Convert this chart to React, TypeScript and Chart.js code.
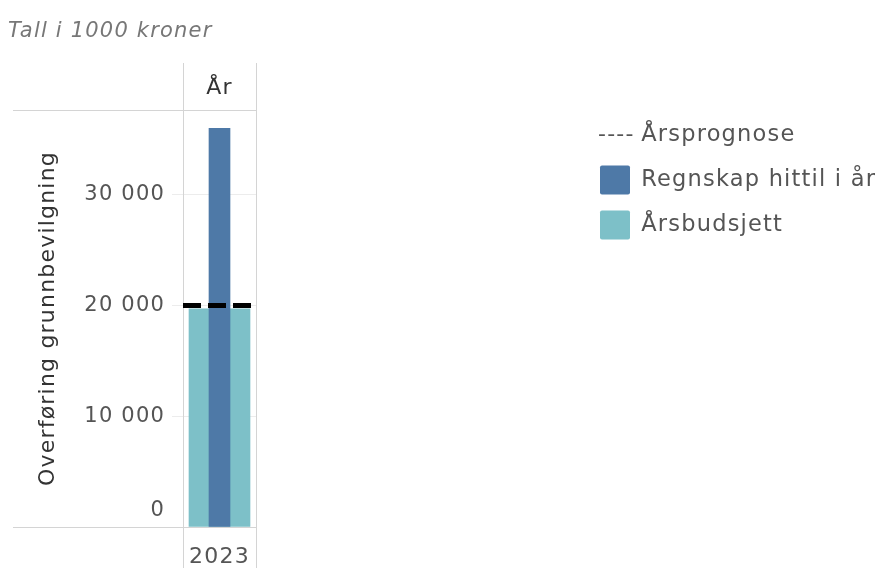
import React, { useEffect, useRef } from 'react';
import { Chart, registerables } from 'chart.js';

Chart.register(...registerables);

const categories = ['2023'];
const forecastLabel = 'Årsprognose';
const actualLabel = 'Regnskap hittil i år';
const budgetLabel = 'Årsbudsjett';
const forecastValues = [20100];
const actualValues = [36000];
const budgetValues = [19700];
const yTicks = [0, 10000, 20000, 30000];
const headerLabel = 'År';
const subtitleText = 'Tall i 1000 kroner';
const yTitleText = 'Overføring grunnbevilgning';

const FONT = "'DejaVu Sans', sans-serif";
const FRAME = '#d4d4d4';
const SPACING = '1.2px';

const fmt = (v: number) => String(v).replace(/\B(?=(\d{3})+(?!\d))/g, ' ');

const tableauPlugin = {
  id: 'tableauFrame',
  beforeUpdate(chart: any) {
    chart.ctx.letterSpacing = SPACING;
  },
  beforeLayout(chart: any) {
    const lg = chart.legend;
    if (lg && !lg.__fixed) {
      const orig = Object.getPrototypeOf(lg).fit;
      lg.fit = function () {
        orig.call(this);
        this.width = 2;
      };
      lg.__fixed = true;
    }
  },
  afterLayout(chart: any) {
    const lg = chart.legend;
    if (!lg) return;
    const a = chart.chartArea;
    lg.left = a.right + 328;
    lg.right = chart.width + 40;
    lg.width = lg.right - lg.left;
    lg.top = a.top - 5.5;
    lg.bottom = chart.height;
    lg.height = lg.bottom - lg.top;
  },
  beforeDraw(chart: any) {
    chart.ctx.letterSpacing = SPACING;
    const y = chart.scales.y;
    const items = y.getLabelItems(chart.chartArea);
    items.forEach((it: any) => {
      if (it.label === '0' && !it.__shifted) {
        it.options.translation[1] -= 16;
        it.__shifted = true;
      }
    });
  },
  beforeDatasetsDraw(chart: any) {
    const { ctx, chartArea: a } = chart;
    const frameLeft = 13;
    ctx.save();
    ctx.strokeStyle = FRAME;
    ctx.lineWidth = 1;
    ctx.beginPath();
    ctx.moveTo(Math.round(a.left) + 0.5, 63);
    ctx.lineTo(Math.round(a.left) + 0.5, chart.height);
    ctx.moveTo(Math.round(a.right) + 0.5, 63);
    ctx.lineTo(Math.round(a.right) + 0.5, chart.height);
    ctx.moveTo(frameLeft, Math.round(a.top) + 0.5);
    ctx.lineTo(Math.round(a.right) + 1, Math.round(a.top) + 0.5);
    ctx.moveTo(frameLeft, Math.round(a.bottom) + 0.5);
    ctx.lineTo(Math.round(a.right) + 1, Math.round(a.bottom) + 0.5);
    ctx.stroke();
    ctx.fillStyle = '#333';
    ctx.font = `22px ${FONT}`;
    ctx.textAlign = 'center';
    ctx.textBaseline = 'middle';
    ctx.fillText(headerLabel, (a.left + a.right) / 2, 88);
    ctx.restore();
  },
  afterDatasetsDraw(chart: any) {
    const { ctx, chartArea: a, scales } = chart;
    const ds = chart.data.datasets[0];
    const py = scales.y.getPixelForValue(ds.data[0]) + 1;
    ctx.save();
    ctx.setLineDash([18, 7]);
    ctx.lineWidth = 5;
    ctx.strokeStyle = ds.borderColor;
    ctx.beginPath();
    ctx.moveTo(a.left, py);
    ctx.lineTo(a.right - 2, py);
    ctx.stroke();
    ctx.restore();
  },
  afterDraw(chart: any) {
    const lg = chart.legend;
    if (!lg || !lg.legendHitBoxes || !lg.legendHitBoxes[0]) return;
    const hb = lg.legendHitBoxes[0];
    const ctx = chart.ctx;
    ctx.save();
    ctx.fillStyle = '#555';
    ctx.font = `22px ${FONT}`;
    ctx.textAlign = 'left';
    ctx.textBaseline = 'middle';
    ctx.fillText('----', hb.left - 2, hb.top + hb.height / 2);
    ctx.restore();
  },
};

export default function App() {
  const ref = useRef<HTMLCanvasElement>(null);

  useEffect(() => {
    if (!ref.current) return;
    const chart = new Chart(ref.current, {
      type: 'bar',
      data: {
        labels: categories,
        datasets: [
          {
            type: 'line',
            label: forecastLabel,
            data: forecastValues,
            borderColor: '#000000',
            backgroundColor: '#000000',
            pointRadius: 0,
            showLine: false,
            order: 2,
          } as any,
          {
            type: 'bar',
            label: actualLabel,
            data: actualValues,
            backgroundColor: '#4e79a7',
            borderWidth: 0,
            barThickness: 21,
            grouped: false,
            order: 0,
          },
          {
            type: 'bar',
            label: budgetLabel,
            data: budgetValues,
            backgroundColor: '#7dc0c8',
            borderWidth: 0,
            barThickness: 61,
            grouped: false,
            order: 1,
          },
        ],
      },
      options: {
        responsive: false,
        animation: false,
        events: [],
        devicePixelRatio: 1,
        layout: { padding: { left: 8, right: 620, top: 0, bottom: 0 } },
        plugins: {
          tooltip: { enabled: false },
          title: {
            display: true,
            text: subtitleText,
            align: 'start',
            color: '#777',
            font: { family: FONT, size: 21, style: 'italic', weight: 'normal' },
            padding: { top: 19, bottom: 65.8 },
          },
          legend: {
            display: true,
            position: 'right',
            align: 'start',
            labels: {
              font: { family: FONT, size: 22.5 },
              color: '#555',
              boxWidth: 30,
              boxHeight: 29,
              padding: 16,
              generateLabels: (c: any) =>
                c.data.datasets.map((ds: any, i: number) => ({
                  text: ds.label,
                  fillStyle: i === 0 ? 'rgba(0,0,0,0)' : ds.backgroundColor,
                  strokeStyle: 'rgba(0,0,0,0)',
                  lineWidth: 0,
                  hidden: false,
                  datasetIndex: i,
                  fontColor: '#555',
                  borderRadius: 2,
                })),
            },
          },
        },
        scales: {
          x: {
            type: 'category',
            position: 'bottom',
            grid: { display: false, drawTicks: false },
            border: { display: false },
            ticks: {
              color: '#555',
              font: { family: FONT, size: 22 },
              padding: 17,
              maxRotation: 0,
            },
            afterFit: (s: any) => {
              s.height = 41;
            },
          },
          y: {
            type: 'linear',
            position: 'left',
            min: 0,
            max: 37650,
            afterBuildTicks: (s: any) => {
              s.ticks = yTicks.map((v) => ({ value: v }));
            },
            afterFit: (s: any) => {
              s.width = 175;
            },
            border: { display: false },
            grid: {
              color: (ctx: any) => (ctx.tick && ctx.tick.value === 0 ? 'rgba(0,0,0,0)' : '#ececec'),
              tickLength: 11,
              drawTicks: true,
            },
            ticks: {
              color: '#555',
              font: { family: FONT, size: 21 },
              padding: 7,
              callback: (v: any) => fmt(Number(v)),
            },
            title: {
              display: true,
              text: yTitleText,
              color: '#333',
              font: { family: FONT, size: 22 },
              padding: { top: 27, bottom: 0 },
            },
          },
        },
      },
      plugins: [tableauPlugin],
    } as any);
    return () => chart.destroy();
  }, []);

  return (
    <div style={{ position: 'absolute', left: 0, top: 0, width: 878, height: 568, background: '#fff' }}>
      <canvas ref={ref} width={878} height={568} style={{ display: 'block' }} />
    </div>
  );
}
